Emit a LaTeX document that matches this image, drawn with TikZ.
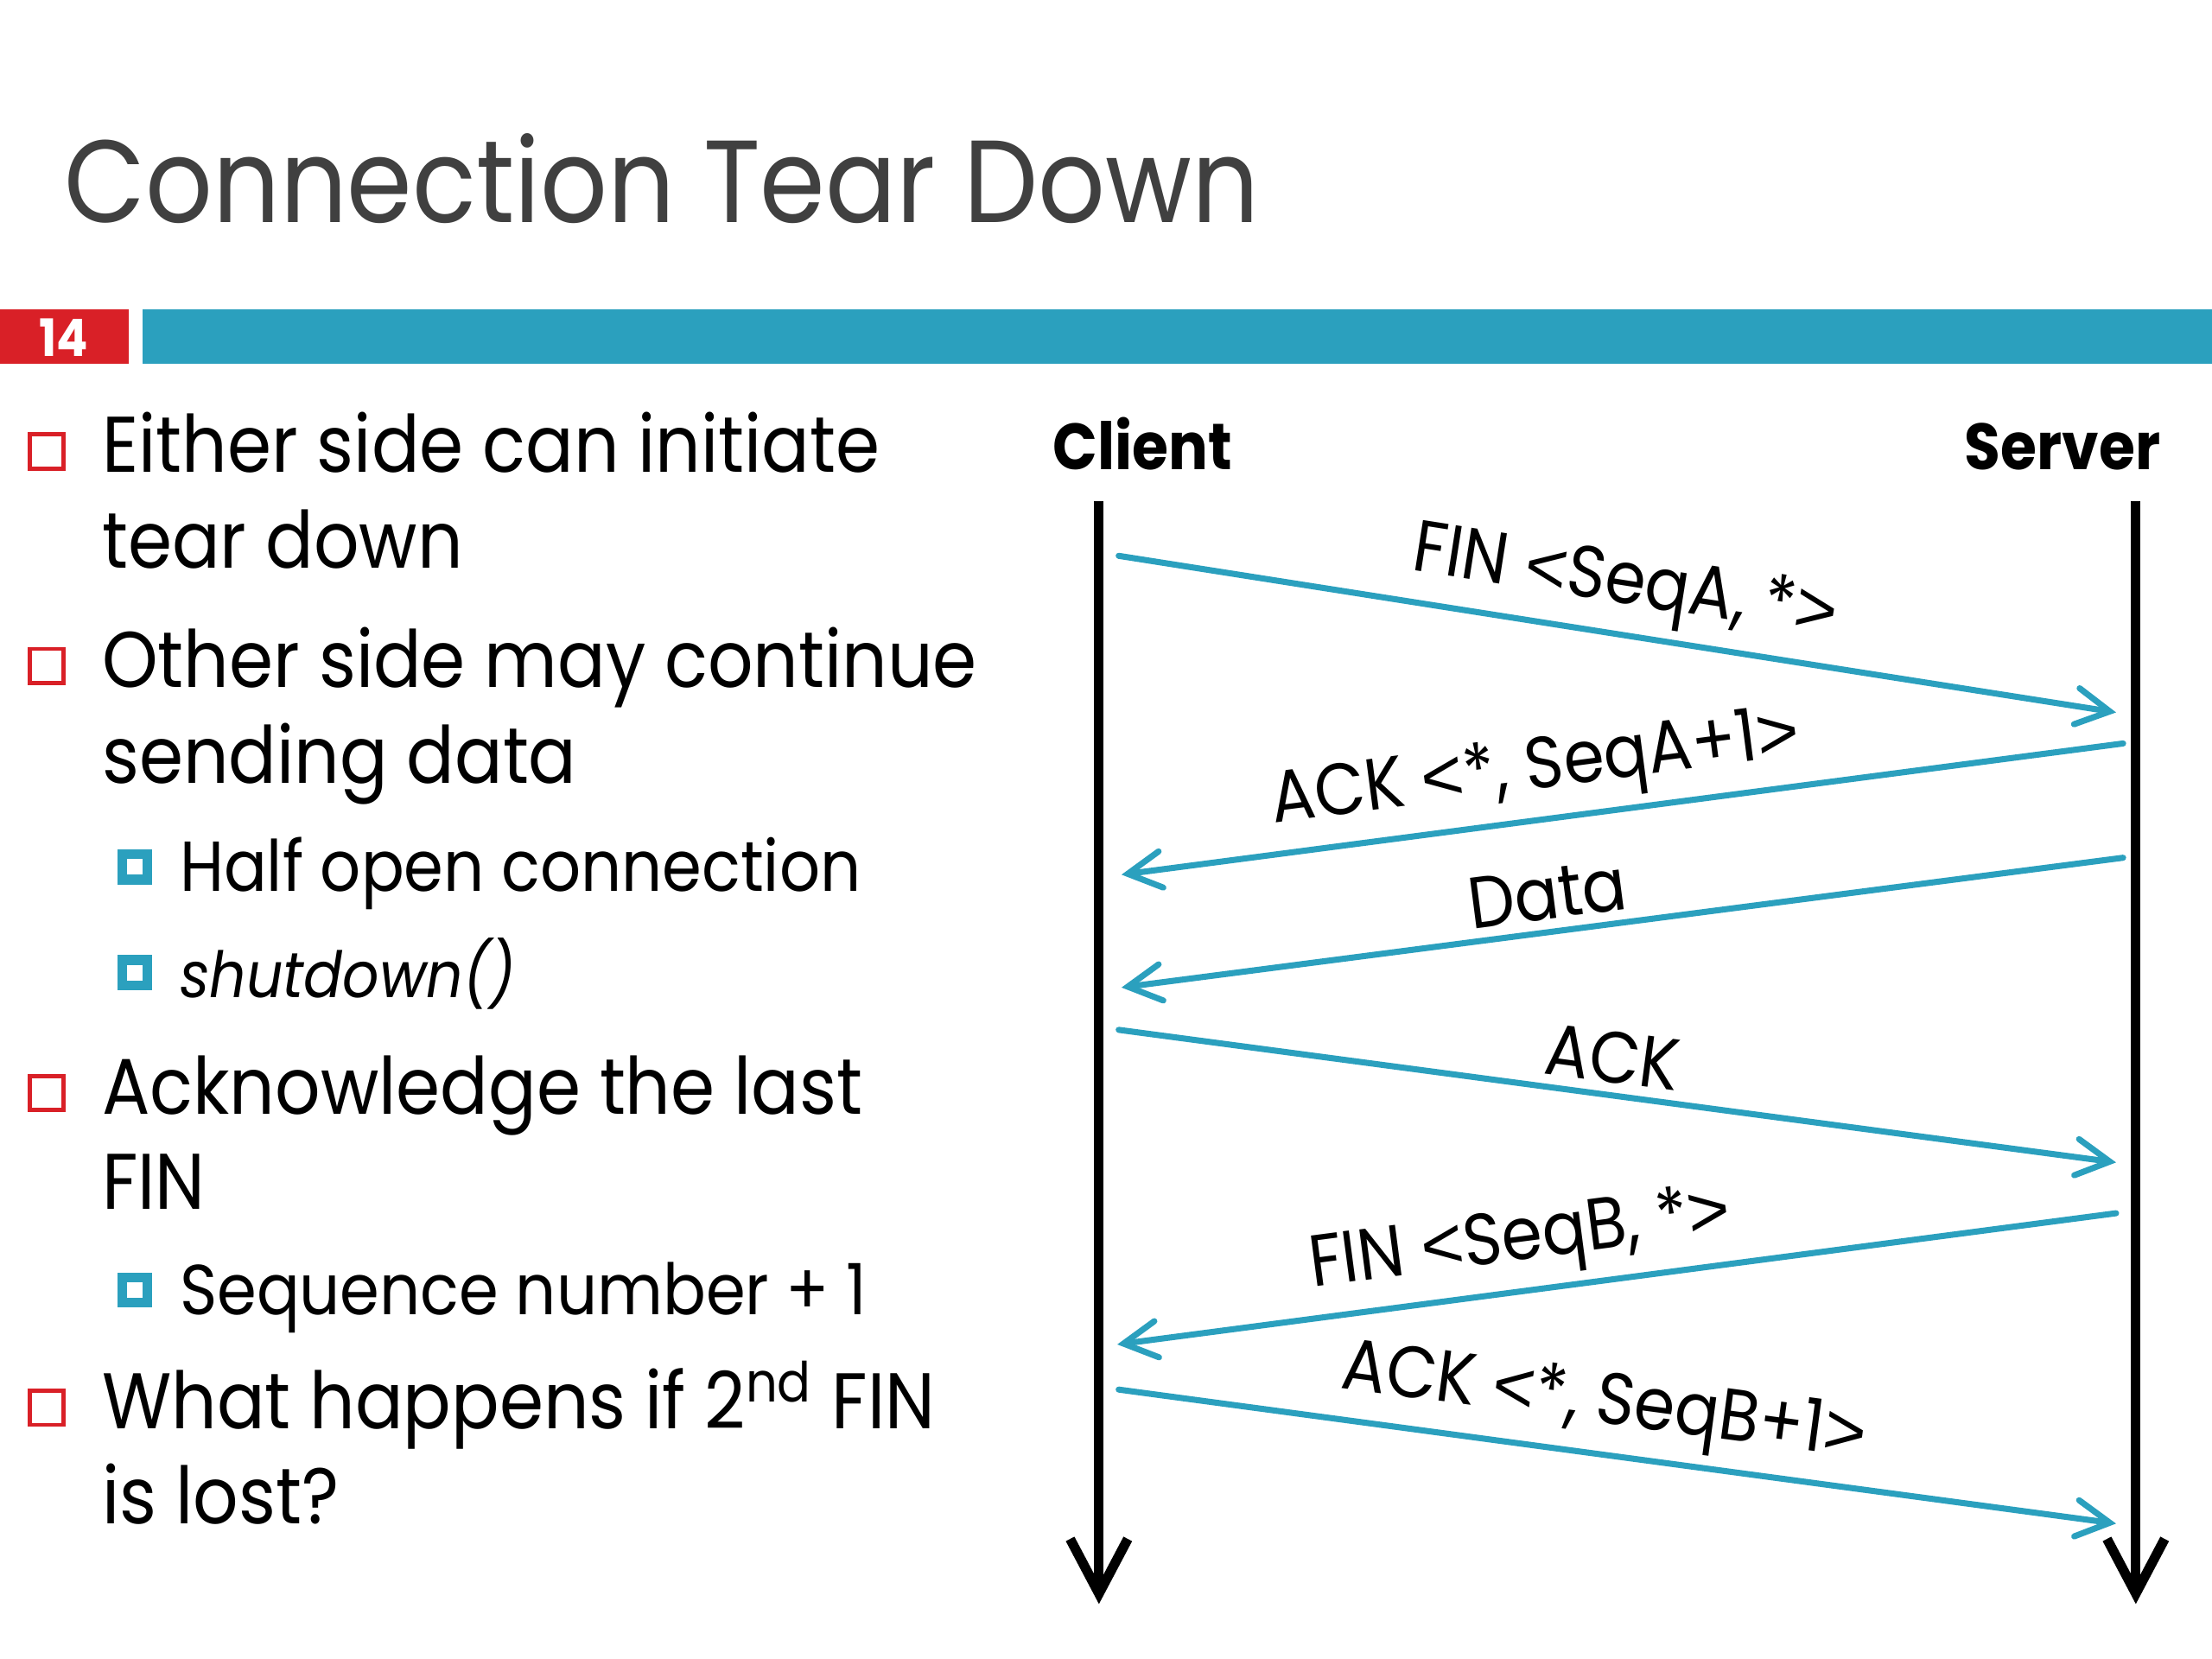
\documentclass[tikz,border=0pt]{standalone}
\usepackage{fontspec}
\setmainfont{Poppins}[FakeStretch=0.9]
\newfontfamily\brkfont{Liberation Sans}
\newcommand\mylt{{\brkfont<}}
\newcommand\mygt{{\brkfont>}}
\usetikzlibrary{arrows.meta}
\definecolor{teal1}{RGB}{43,160,190}
\definecolor{red1}{RGB}{217,32,39}
\definecolor{title1}{RGB}{64,64,64}
\begin{document}
\begin{tikzpicture}[x=0.016327cm,y=-0.016327cm,
  body/.style={anchor=base west, inner sep=0pt, font=\fontsize{26}{30}\selectfont},
  sub/.style={anchor=base west, inner sep=0pt, font=\fontsize{23.3}{28}\selectfont},
  lbl/.style={font=\fontsize{24}{28}\selectfont, sloped, above=2pt, inner sep=1pt},
  who/.style={anchor=base, inner sep=0pt, font=\fontsize{21.5}{26}\selectfont\bfseries},
  msg/.style={draw=teal1, line width=2pt, line cap=round,
    -{Straight Barb[length=11pt,width=12pt,line cap=round]}},
  life/.style={line width=3.2pt, -{Straight Barb[length=18pt,width=19pt]}},
  redsq/.style={draw=red1, line width=1.4pt},
]
\useasboundingbox (0,0) rectangle (1568,1176);
% title
\node[anchor=base west, inner sep=0pt, text=title1, font=\fontsize{38.5}{46}\selectfont] (title) at (45,158) {Connection Tear Down};
% header bars
\fill[red1] (0,219) rectangle (91,258);
\node[text=white, font=\bfseries\fontsize{17}{20}\selectfont, inner sep=0pt] (num) at (45,239) {14};
\fill[teal1] (101,219) rectangle (1568,258);
% bullets
\foreach \yy in {335,487,790,1013} {\draw[redsq] (21,\yy-27) rectangle (45,\yy-3);}
\foreach \yy in {632,707,932} {\fill[teal1] (83,\yy-30) rectangle (108,\yy-5); \fill[white] (90,\yy-23) rectangle (101,\yy-12);}
\node[body] (t1) at (72,335) {Either side can initiate};
\node[body] (t2) at (72,403) {tear down};
\node[body] (t3) at (72,487) {Other side may continue};
\node[body] (t4) at (72,555) {sending data};
\node[sub] (t5) at (127,632) {Half open connection};
\node[sub, font=\fontsize{21}{26}\selectfont\itshape] (t6) at (127,707) {shutdown()};
\node[body] (t7) at (72,790) {Acknowledge the last};
\node[body] (t8) at (72,857) {FIN};
\node[sub] (t9) at (127,932) {Sequence number + 1};
\node[body] (t10) at (72,1013) {What happens if 2\textsuperscript{nd} FIN};
\node[body] (t11) at (72,1080) {is lost?};
% lifelines
\node[who] (client) at (810,333) {Client};
\node[who] (server) at (1462,333) {Server};
\coordinate (ctop) at (779,355);
\coordinate (cbot) at (779,1137);
\coordinate (stop) at (1514,355);
\coordinate (sbot) at (1514,1137);
\draw[life] (ctop) -- (cbot);
\draw[life] (stop) -- (sbot);
% messages
\coordinate (m1s) at (793,394);  \coordinate (m1e) at (1500,505);
\coordinate (m2s) at (1505,527); \coordinate (m2e) at (795,620);
\coordinate (m3s) at (1505,608); \coordinate (m3e) at (795,700);
\coordinate (m4s) at (793,730);  \coordinate (m4e) at (1500,824);
\coordinate (m5s) at (1500,860); \coordinate (m5e) at (792,953);
\coordinate (m6s) at (793,985);  \coordinate (m6e) at (1500,1080);
\draw[msg] (m1s) -- node[lbl, pos=0.5] (l1) {FIN \mylt SeqA, *\mygt} (m1e);
\draw[msg] (m2s) -- node[lbl, pos=0.58] (l2) {ACK \mylt*, SeqA+1\mygt} (m2e);
\draw[msg] (m3s) -- node[lbl, pos=0.57] (l3) {Data} (m3e);
\draw[msg] (m4s) -- node[lbl, pos=0.49] (l4) {ACK} (m4e);
\draw[msg] (m5s) -- node[lbl, pos=0.59] (l5) {FIN \mylt SeqB, *\mygt} (m5e);
\draw[msg] (m6s) -- node[lbl, pos=0.48] (l6) {ACK \mylt*, SeqB+1\mygt} (m6e);
\end{tikzpicture}
\end{document}
